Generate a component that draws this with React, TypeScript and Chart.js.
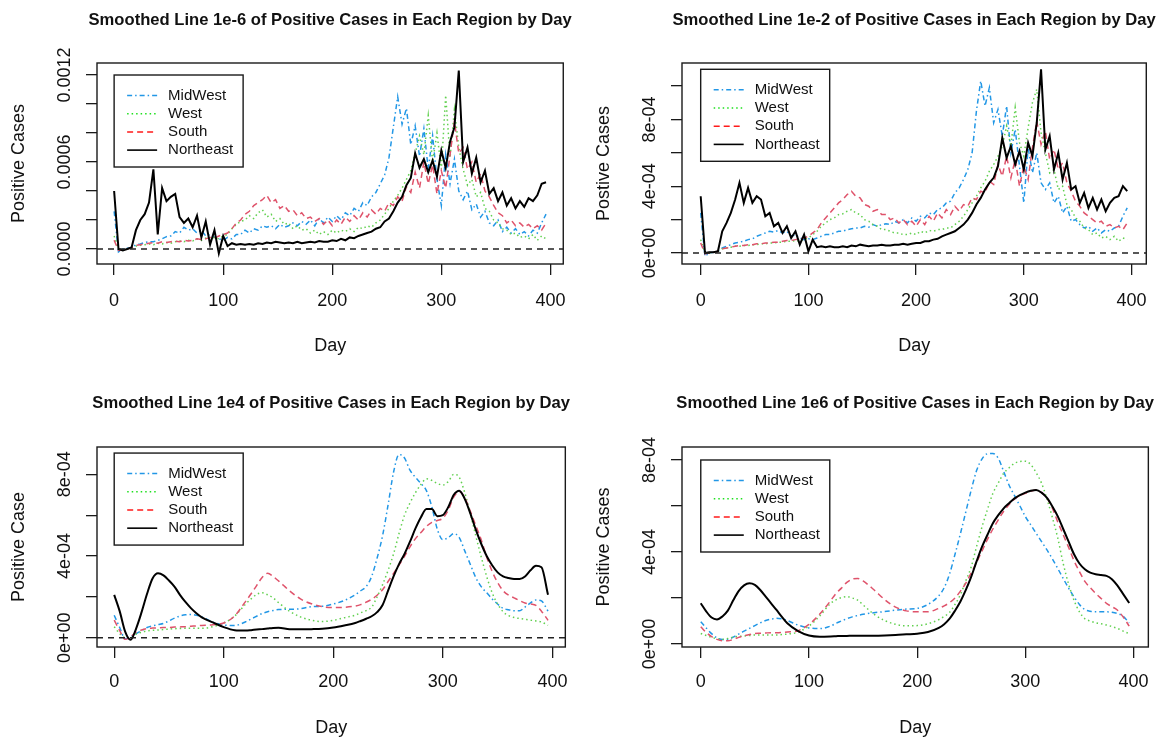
import React, { useEffect, useRef } from "react";
import { Chart, registerables } from "chart.js";

Chart.register(...registerables);

const FONT = "'Liberation Sans', Arial, Helvetica, sans-serif";
const UNIT = 1e-4; // all series values below are in units of 1e-4

const regions = ["MidWest", "West", "South", "Northeast"];
const lineColors = ["#2297E6", "#61D04F", "#DF536B", "#000000"];
const legendColors = ["#2297E6", "#1EE01E", "#FF1A1A", "#000000"];
const lineDashes = [[5, 3, 1.5, 3], [1.5, 3], [6, 4], []];
const lineWidths = [1.5, 1.5, 1.5, 2];
const drawOrder = [4, 3, 2, 1];

const xTickValues = [0, 100, 200, 300, 400];
const yTicksWide = [0, 0.0002, 0.0004, 0.0006, 0.0008, 0.001, 0.0012];
const yTicks10 = [0, 0.0002, 0.0004, 0.0006, 0.0008, 0.001];
const yTicks8 = [0, 0.0002, 0.0004, 0.0006, 0.0008];
const yLabelValsDecimal = [0, 0.0006, 0.0012];
const yLabelTextDecimal = ["0.0000", "0.0006", "0.0012"];
const yLabelValsSci = [0, 0.0004, 0.0008];
const yLabelTextSci = ["0e+00", "4e-04", "8e-04"];

// ---------- raw-ish daily series (sampled every 4 days) ----------
const noisyDays = [
  0, 4, 8, 12, 16, 20, 24, 28, 32, 36, 40, 44, 48, 52, 56, 60, 64, 68, 72, 76,
  80, 84, 88, 92, 96, 100, 104, 108, 112, 116, 120, 124, 128, 132, 136, 140, 144, 148, 152, 156,
  160, 164, 168, 172, 176, 180, 184, 188, 192, 196, 200, 204, 208, 212, 216, 220, 224, 228, 232, 236,
  240, 244, 248, 252, 256, 260, 264, 268, 272, 276, 280, 284, 288, 292, 296, 300, 304, 308, 312, 316,
  320, 324, 328, 332, 336, 340, 344, 348, 352, 356, 360, 364, 368, 372, 376, 380, 384, 388, 392, 396,
];

// Panel 1: smoothing 1e-6
const s6MidWest = [
  2.6, -0.2, 0.0, 0.05, 0.1, 0.3, 0.35, 0.45, 0.5, 0.5,
  0.6, 0.7, 0.85, 0.9, 1.2, 1.1, 1.5, 1.3, 1.4, 1.1,
  1.3, 0.9, 1.0, 0.8, 0.7, 0.6, 0.8, 0.7, 1.0, 1.0,
  1.3, 1.1, 1.4, 1.3, 1.6, 1.5, 1.6, 1.4, 1.7, 1.5,
  1.6, 1.8, 1.6, 1.9, 1.7, 2.0, 1.6, 2.1, 1.8, 2.2,
  1.9, 2.3, 2.0, 2.5, 2.3, 2.8, 2.6, 3.2, 3.0, 3.6,
  3.9, 4.5, 5.1, 6.3, 8.4, 10.5, 8.6, 9.7, 7.2, 8.5,
  6.4, 8.3, 5.5, 7.8, 4.8, 3.0, 6.5, 4.5, 6.2, 4.0,
  3.4, 4.0, 2.7, 3.1, 2.2, 2.6, 1.8, 1.6, 2.0, 1.2,
  1.5, 1.1, 1.4, 1.0, 1.2, 0.9, 1.3, 1.1, 1.8, 2.4,
];
const s6West = [
  0.9, 0.0, -0.05, 0.0, 0.05, 0.2, 0.25, 0.3, 0.35, 0.3,
  0.4, 0.35, 0.45, 0.4, 0.5, 0.55, 0.5, 0.6, 0.55, 0.7,
  0.6, 0.75, 0.65, 0.8, 0.7, 0.9, 1.0, 1.4, 1.7, 1.9,
  2.0, 2.3, 2.1, 2.5, 2.7, 2.2, 2.4, 1.9, 2.1, 1.7,
  1.8, 1.4, 1.6, 1.3, 1.4, 1.1, 1.3, 1.0, 1.2, 1.0,
  1.3, 1.1, 1.3, 1.2, 1.4, 1.2, 1.5, 1.4, 1.6, 1.5,
  1.8, 2.0, 2.4, 2.8, 3.3, 3.7, 4.2, 4.8, 5.4, 6.6,
  7.8, 6.5, 9.2, 6.0, 8.0, 5.5, 10.6, 6.3, 9.6, 7.0,
  5.5, 4.4, 4.8, 3.6, 3.9, 2.8, 2.6, 2.0, 1.8, 1.4,
  1.3, 1.0, 1.1, 0.8, 0.9, 0.7, 1.0, 0.6, 0.9, 0.7,
];
const s6South = [
  0.6, -0.1, -0.05, 0.0, 0.1, 0.25, 0.3, 0.35, 0.4, 0.45,
  0.4, 0.5, 0.45, 0.5, 0.55, 0.5, 0.6, 0.55, 0.6, 0.7,
  0.65, 0.7, 0.8, 0.75, 0.9, 1.0, 1.1, 1.4, 1.8, 2.0,
  2.4, 2.6, 3.0, 3.2, 3.4, 3.7, 3.2, 3.4, 2.8, 3.0,
  2.6, 2.7, 2.3, 2.5, 2.1, 2.2, 1.9, 2.1, 1.7, 2.0,
  1.6, 2.0, 1.7, 2.2, 1.9, 2.3, 2.0, 2.5, 2.2, 2.7,
  2.4, 2.8, 2.6, 3.2, 3.0, 3.6, 3.3, 4.3, 3.9, 5.3,
  4.2, 6.0, 4.5, 5.8, 3.8, 5.4, 4.2, 6.5, 8.8, 6.6,
  7.0, 5.5, 6.0, 4.6, 5.2, 4.0, 3.6, 3.0, 2.5, 2.3,
  1.8, 2.0, 1.6, 1.8, 1.5, 1.7, 1.4, 1.6, 1.3, 1.8,
];
const s6Northeast = [
  4.0, 0.0, -0.1, 0.0, 0.1, 1.3, 2.0, 2.4, 3.2, 5.5,
  1.0, 4.2, 3.3, 3.6, 3.8, 2.2, 1.8, 2.1, 1.5, 2.3,
  0.8, 1.9, 0.3, 1.3, -0.3, 0.9, 0.2, 0.4, 0.3, 0.35,
  0.3, 0.35, 0.3, 0.4, 0.35, 0.45, 0.4, 0.5, 0.45, 0.4,
  0.45, 0.4, 0.5, 0.4, 0.45, 0.5, 0.45, 0.55, 0.5, 0.5,
  0.6, 0.55, 0.7, 0.6, 0.8, 0.75, 0.9, 1.0, 1.1, 1.2,
  1.4, 1.5, 1.9, 2.1, 2.6, 3.2, 3.6, 4.4, 4.9, 6.6,
  5.6, 6.2, 5.3, 6.1, 5.0, 6.8, 5.6, 7.4, 8.4, 12.3,
  6.0, 7.0, 5.2, 6.3, 4.6, 5.4, 3.8, 4.2, 3.3, 3.9,
  3.0, 3.5, 2.8, 3.3, 2.9, 3.5, 3.3, 3.7, 4.5, 4.6,
];

// Panel 2: smoothing 1e-2
const s2MidWest = [
  2.4, -0.2, 0.0, 0.05, 0.1, 0.3, 0.4, 0.5, 0.6, 0.65,
  0.7, 0.8, 0.85, 1.0, 1.1, 1.2, 1.3, 1.25, 1.35, 1.2,
  1.3, 1.0, 1.1, 0.9, 0.8, 0.85, 0.8, 0.9, 1.0, 1.1,
  1.1, 1.2, 1.3, 1.3, 1.4, 1.45, 1.5, 1.5, 1.6, 1.55,
  1.7, 1.6, 1.7, 1.75, 1.7, 1.9, 1.8, 2.0, 1.8, 2.1,
  1.9, 2.2, 2.1, 2.4, 2.3, 2.6, 2.7, 3.0, 3.1, 3.6,
  3.9, 4.4, 5.0, 6.0, 8.5, 10.3, 8.8, 9.9, 7.8, 8.6,
  7.0, 8.8, 6.0, 7.4, 5.2, 3.0, 6.3, 4.8, 6.0, 4.2,
  3.8, 4.2, 3.0, 3.4, 2.4, 2.8, 1.9, 2.0, 1.7, 1.5,
  1.6, 1.3, 1.5, 1.2, 1.4, 1.3, 1.5, 1.6, 2.2, 2.7,
];
const s2West = [
  0.8, 0.0, 0.0, 0.05, 0.1, 0.25, 0.3, 0.35, 0.4, 0.4,
  0.45, 0.45, 0.5, 0.5, 0.55, 0.55, 0.6, 0.6, 0.65, 0.65,
  0.7, 0.7, 0.75, 0.7, 0.85, 0.9, 1.1, 1.3, 1.6, 1.8,
  2.0, 2.1, 2.3, 2.35, 2.5, 2.6, 2.4, 2.3, 2.0, 1.9,
  1.7, 1.6, 1.4, 1.4, 1.3, 1.2, 1.2, 1.1, 1.1, 1.2,
  1.1, 1.3, 1.2, 1.35, 1.3, 1.4, 1.4, 1.5, 1.5, 1.7,
  1.9, 2.2, 2.6, 3.0, 3.4, 3.9, 4.3, 4.9, 5.3, 5.8,
  6.4, 7.6, 6.4, 8.7, 6.6, 5.8, 7.5, 9.0, 9.8, 7.2,
  6.0, 4.8, 5.0, 3.8, 4.0, 2.9, 2.6, 2.1, 1.9, 1.5,
  1.4, 1.1, 1.2, 0.9, 1.0, 0.8, 1.0, 0.7, 0.9, 0.8,
];
const s2South = [
  0.6, -0.05, 0.0, 0.05, 0.1, 0.25, 0.3, 0.35, 0.4, 0.45,
  0.45, 0.5, 0.5, 0.55, 0.55, 0.6, 0.6, 0.65, 0.65, 0.7,
  0.75, 0.75, 0.8, 0.85, 0.9, 1.0, 1.2, 1.4, 1.8, 2.1,
  2.4, 2.7, 3.0, 3.2, 3.5, 3.7, 3.4, 3.3, 2.9, 2.8,
  2.5, 2.6, 2.3, 2.3, 2.0, 2.1, 1.8, 2.0, 1.7, 1.9,
  1.6, 2.0, 1.7, 2.2, 1.9, 2.4, 2.1, 2.6, 2.3, 2.8,
  2.5, 2.9, 2.8, 3.3, 3.2, 3.7, 3.6, 4.3, 4.1, 5.3,
  4.6, 5.8, 4.5, 5.6, 4.0, 5.2, 4.4, 6.3, 7.9, 6.5,
  7.3, 5.6, 6.2, 5.0, 5.4, 4.2, 3.7, 3.1, 2.8, 2.4,
  2.2, 2.0, 1.8, 1.9, 1.6, 1.7, 1.5, 1.6, 1.4, 1.8,
];
const s2Northeast = [
  3.4, 0.0, 0.05, 0.05, 0.1, 1.3, 1.8, 2.4, 3.2, 4.2,
  3.0, 3.9, 3.0, 3.4, 3.2, 2.2, 2.4, 1.6, 1.8, 1.2,
  1.6, 0.9, 1.3, 0.5, 1.1, 0.1, 0.8, 0.35, 0.4, 0.35,
  0.4, 0.35, 0.35, 0.4, 0.35, 0.45, 0.4, 0.5, 0.45, 0.4,
  0.45, 0.45, 0.5, 0.45, 0.45, 0.5, 0.5, 0.55, 0.5, 0.55,
  0.6, 0.6, 0.7, 0.7, 0.8, 0.85, 1.0, 1.1, 1.2, 1.3,
  1.5, 1.7, 2.0, 2.4, 2.9, 3.3, 3.8, 4.2, 4.5, 5.2,
  6.9, 5.7, 6.4, 5.3, 6.1, 5.0, 6.6, 5.8, 7.8, 11.0,
  6.2, 7.0, 5.0, 6.0, 4.4, 5.4, 3.8, 4.0, 3.0, 3.6,
  2.7, 3.3, 2.6, 3.2, 2.5, 3.0, 3.3, 3.4, 4.0, 3.7,
];

// ---------- smoothed curves ----------
const smoothDays = [
  0, 5, 10, 15, 20, 25, 30, 35, 40, 45, 50, 55, 60, 65, 70, 75, 80,
  90, 100, 110, 120, 125, 130, 135, 140, 145, 150,
  160, 170, 180, 190, 200, 210, 220,
  225, 230, 235, 240, 245, 250, 255, 260, 265, 270, 275, 280, 285, 290, 295, 300,
  305, 310, 315, 320, 325, 330, 335, 340, 345, 350, 355, 360, 365, 370, 375, 380, 385, 390,
  396,
];

// Panel 3: smoothing 1e4
const e4MidWest = [
  1.1, 0.5, -0.05, 0.05, 0.2, 0.35, 0.5, 0.58, 0.64, 0.7, 0.82, 0.96, 1.06, 1.12, 1.14, 1.1, 1.02,
  0.77, 0.62, 0.6, 0.78, 0.92, 1.05, 1.18, 1.27, 1.33, 1.38,
  1.39, 1.42, 1.52, 1.54, 1.65, 1.82, 2.1,
  2.3, 2.5, 3.0, 3.9, 5.0, 6.5, 8.1, 8.97, 8.8, 8.2, 7.85, 7.55, 7.2, 6.4, 5.3, 4.8,
  4.9, 5.1, 4.9, 4.25, 3.6, 2.95, 2.5, 2.2, 1.9, 1.65, 1.44, 1.37, 1.32, 1.32, 1.5, 1.7, 1.85, 1.8,
  1.3,
];
const e4West = [
  0.54, 0.2, 0.0, 0.0, 0.18, 0.27, 0.33, 0.36, 0.38, 0.4, 0.42, 0.44, 0.45, 0.46, 0.46, 0.46, 0.46,
  0.54, 0.72, 1.06, 1.65, 1.9, 2.12, 2.2, 2.1, 1.95, 1.72,
  1.3, 1.02, 0.86, 0.79, 0.85, 0.98, 1.1,
  1.22, 1.33, 1.5, 2.0, 2.6, 3.3, 4.1, 5.1, 6.0, 6.6, 7.1, 7.5, 7.78, 7.7, 7.55, 7.47,
  7.65, 8.0, 7.85, 7.1, 6.1, 5.0, 3.96, 3.0, 2.2, 1.65, 1.27, 1.08, 0.99, 0.94, 0.9, 0.86, 0.82, 0.77,
  0.6,
];
const e4South = [
  0.86, 0.35, -0.08, 0.05, 0.27, 0.38, 0.45, 0.47, 0.48, 0.5, 0.5, 0.52, 0.53, 0.54, 0.56, 0.58, 0.6,
  0.64, 0.72, 1.07, 1.78, 2.15, 2.55, 2.95, 3.15, 3.0, 2.78,
  2.3, 1.9, 1.66, 1.52, 1.48, 1.49, 1.55,
  1.62, 1.74, 1.88, 2.08, 2.35, 2.75, 3.15, 3.55, 3.98, 4.45, 4.85, 5.15, 5.45, 5.65, 5.74, 5.85,
  6.25, 6.9, 7.15, 6.85, 6.2, 5.5, 4.8, 3.95, 3.25, 2.7, 2.3, 2.08, 1.95, 1.82, 1.7, 1.65, 1.58, 1.3,
  0.85,
];
const e4Northeast = [
  2.1, 1.3, 0.3, -0.1, 0.45, 1.25, 2.15, 2.9, 3.15, 3.05, 2.8, 2.5, 2.1, 1.75, 1.45, 1.2, 1.0,
  0.75, 0.52, 0.37, 0.35, 0.37, 0.4, 0.42, 0.45, 0.48, 0.49,
  0.42, 0.41, 0.42, 0.44, 0.5, 0.6, 0.72,
  0.82, 0.93, 1.05, 1.25, 1.6, 2.3, 3.0, 3.6, 4.1, 4.7, 5.35, 5.9, 6.3, 6.3, 5.95, 6.0,
  6.4, 7.0, 7.2, 6.8, 6.1, 5.3, 4.6, 4.0, 3.55, 3.2, 3.0, 2.92, 2.87, 2.87, 3.0, 3.3, 3.52, 3.45,
  2.1,
];

// Panel 4: smoothing 1e6
const e6MidWest = [
  0.97, 0.7, 0.45, 0.27, 0.2, 0.2, 0.3, 0.43, 0.56, 0.68, 0.8, 0.92, 1.02, 1.08, 1.12, 1.09, 1.02,
  0.82, 0.7, 0.67, 0.78, 0.9, 1.0, 1.1, 1.18, 1.24, 1.29,
  1.36, 1.41, 1.47, 1.52, 1.55, 1.72, 2.1,
  2.45, 3.05, 3.9, 4.8, 5.75, 6.7, 7.55, 8.05, 8.27, 8.28, 8.07, 7.5, 6.9, 6.45, 6.0, 5.54,
  5.18, 4.81, 4.45, 4.09, 3.7, 3.28, 2.85, 2.43, 2.05, 1.72, 1.5, 1.42, 1.4, 1.4, 1.4, 1.38, 1.33, 1.22,
  0.92,
];
const e6West = [
  0.46, 0.37, 0.29, 0.23, 0.2, 0.24, 0.3, 0.33, 0.35, 0.37, 0.39, 0.39, 0.39, 0.39, 0.39, 0.41, 0.43,
  0.52, 0.78, 1.22, 1.77, 1.92, 2.02, 2.06, 2.0, 1.91, 1.7,
  1.3, 1.02, 0.86, 0.79, 0.8, 0.88, 1.06,
  1.2, 1.38, 1.72, 2.15, 2.75, 3.36, 4.25, 5.1, 5.85, 6.55, 7.0, 7.42, 7.66, 7.86, 7.93, 7.95,
  7.8, 7.45, 6.99, 6.3, 5.5, 4.6, 3.5, 2.6, 1.9, 1.4, 1.1, 1.0, 0.92, 0.88, 0.83, 0.76, 0.68, 0.57,
  0.45,
];
const e6South = [
  0.75, 0.5, 0.32, 0.2, 0.14, 0.14, 0.2, 0.29, 0.36, 0.41, 0.46, 0.47, 0.48, 0.49, 0.49, 0.5, 0.52,
  0.58, 0.85, 1.3, 1.88, 2.2, 2.43, 2.68, 2.82, 2.85, 2.74,
  2.36, 1.93, 1.6, 1.44, 1.4, 1.4, 1.55,
  1.66, 1.8, 2.0, 2.3, 2.65, 3.1, 3.55, 4.05, 4.55, 5.0, 5.4, 5.77, 6.06, 6.3, 6.45, 6.55,
  6.64, 6.7, 6.58, 6.35, 5.9, 5.3, 4.75, 4.2, 3.62, 3.15, 2.72, 2.45, 2.2, 1.98, 1.77, 1.62, 1.48, 1.2,
  0.78,
];
const e6Northeast = [
  1.77, 1.42, 1.15, 1.07, 1.2, 1.45, 1.9, 2.3, 2.55, 2.64, 2.57, 2.35, 2.06, 1.77, 1.48, 1.18, 0.9,
  0.56, 0.37, 0.32, 0.33, 0.34, 0.35, 0.35, 0.36, 0.36, 0.36,
  0.36, 0.37, 0.39, 0.42, 0.45, 0.52, 0.7,
  0.86, 1.1, 1.45, 1.85, 2.35, 2.93, 3.6, 4.23, 4.75, 5.25, 5.6, 5.9, 6.12, 6.33, 6.47, 6.58,
  6.66, 6.7, 6.58, 6.35, 5.98, 5.55, 5.0, 4.45, 3.9, 3.5, 3.25, 3.1, 3.03, 3.0, 2.96, 2.82, 2.55, 2.2,
  1.78,
];

type Panel = {
  key: string;
  pos: [number, number];
  title: string;
  yTitle: string;
  days: number[];
  series: number[][];
  smooth: boolean;
  area: { l: number; r: number; t: number; b: number };
  xRange: [number, number];
  yRange: [number, number];
  yTicks: number[];
  yLabelVals: number[];
  yLabelText: string[];
  zeroLine: boolean;
  legendAt: [number, number];
  titleY: number;
  xLabelY: number;
  xTitleY: number;
  yTitleX: number;
};

const W = 581;
const H = 370;

const panels: Panel[] = [
  {
    key: "p1", pos: [0, 0],
    title: "Smoothed Line 1e-6 of Positive Cases in Each Region by Day",
    yTitle: "Positive Cases",
    days: noisyDays, series: [s6MidWest, s6West, s6South, s6Northeast], smooth: false,
    area: { l: 97, r: 567, t: 63, b: 264 }, xRange: [-15.7, 411.8], yRange: [-0.0001034, 0.0012828],
    yTicks: yTicksWide, yLabelVals: yLabelValsDecimal, yLabelText: yLabelTextDecimal,
    zeroLine: true, legendAt: [0, 0.0012], titleY: 20, xLabelY: 301, xTitleY: 346, yTitleX: 19,
  },
  {
    key: "p2", pos: [581, 0],
    title: "Smoothed Line 1e-2 of Positive Cases in Each Region by Day",
    yTitle: "Postive Cases",
    days: noisyDays, series: [s2MidWest, s2West, s2South, s2Northeast], smooth: false,
    area: { l: 101, r: 573, t: 63, b: 264 }, xRange: [-17.35, 413.7], yRange: [-0.0000659, 0.0011377],
    yTicks: yTicks10, yLabelVals: yLabelValsSci, yLabelText: yLabelTextSci,
    zeroLine: true, legendAt: [0, 0.0011], titleY: 20, xLabelY: 301, xTitleY: 346, yTitleX: 23,
  },
  {
    key: "p3", pos: [0, 370],
    title: "Smoothed Line 1e4 of Positive Cases in Each Region by Day",
    yTitle: "Positive Case",
    days: smoothDays, series: [e4MidWest, e4West, e4South, e4Northeast], smooth: true,
    area: { l: 97, r: 567, t: 77, b: 277 }, xRange: [-15.7, 411.8], yRange: [-0.0000455, 0.0009337],
    yTicks: yTicks8, yLabelVals: yLabelValsSci, yLabelText: yLabelTextSci,
    zeroLine: true, legendAt: [0, 0.000904], titleY: 33, xLabelY: 312, xTitleY: 358, yTitleX: 19,
  },
  {
    key: "p4", pos: [581, 370],
    title: "Smoothed Line 1e6 of Positive Cases in Each Region by Day",
    yTitle: "Positive Cases",
    days: smoothDays, series: [e6MidWest, e6West, e6South, e6Northeast], smooth: true,
    area: { l: 101, r: 573, t: 77, b: 277 }, xRange: [-17.35, 413.7], yRange: [-0.000013, 0.0008565],
    yTicks: yTicks8, yLabelVals: yLabelValsSci, yLabelText: yLabelTextSci,
    zeroLine: false, legendAt: [0, 0.0008], titleY: 33, xLabelY: 312, xTitleY: 358, yTitleX: 23,
  },
];

function PanelChart({ panel }: { panel: Panel }) {
  const ref = useRef<HTMLCanvasElement | null>(null);

  useEffect(() => {
    const p = panel;
    const canvas = ref.current;
    if (!canvas) return;

    const datasets = p.series.map((vals, i) => ({
      label: regions[i],
      data: vals.map((v, j) => ({ x: p.days[j], y: v * UNIT })),
      borderColor: lineColors[i],
      backgroundColor: lineColors[i],
      borderWidth: lineWidths[i],
      borderDash: lineDashes[i],
      pointRadius: 0,
      fill: false,
      tension: 0,
      cubicInterpolationMode: p.smooth ? "monotone" : "default",
      order: drawOrder[i],
    }));

    const rStyle = {
      id: "rStyle" + p.key,
      afterDatasetsDraw(chart: any) {
        const { ctx, chartArea } = chart;
        const xs = chart.scales.x;
        const ys = chart.scales.y;
        ctx.save();
        if (p.zeroLine) {
          const y0 = ys.getPixelForValue(0);
          ctx.beginPath();
          ctx.setLineDash([6, 5]);
          ctx.strokeStyle = "#222";
          ctx.lineWidth = 1.4;
          ctx.moveTo(chartArea.left, y0);
          ctx.lineTo(chartArea.right, y0);
          ctx.stroke();
        }
        // plot box
        ctx.setLineDash([]);
        ctx.strokeStyle = "#1a1a1a";
        ctx.lineWidth = 1.4;
        ctx.strokeRect(chartArea.left, chartArea.top, chartArea.right - chartArea.left, chartArea.bottom - chartArea.top);

        // main title, centred over the plot region like R's title()
        ctx.fillStyle = "#111";
        ctx.font = `bold 16.6px ${FONT}`;
        ctx.textAlign = "center";
        ctx.textBaseline = "middle";
        ctx.fillText(p.title, (chartArea.left + chartArea.right) / 2, p.titleY);

        // y tick labels, rotated like R (las = 0)
        ctx.font = `18px ${FONT}`;
        p.yLabelVals.forEach((v, i) => {
          const py = ys.getPixelForValue(v);
          ctx.save();
          ctx.translate(chartArea.left - 32, py);
          ctx.rotate(-Math.PI / 2);
          ctx.fillText(p.yLabelText[i], 0, 0);
          ctx.restore();
        });

        // legend
        const lx = xs.getPixelForValue(p.legendAt[0]);
        const ly = ys.getPixelForValue(p.legendAt[1]);
        const bw = 129;
        const bh = 92;
        ctx.fillStyle = "#fff";
        ctx.fillRect(lx, ly, bw, bh);
        ctx.strokeStyle = "#1a1a1a";
        ctx.lineWidth = 1.4;
        ctx.strokeRect(lx, ly, bw, bh);
        ctx.font = `15px ${FONT}`;
        ctx.textAlign = "left";
        ctx.textBaseline = "middle";
        regions.forEach((name, i) => {
          const ry = ly + 20.5 + i * 18.2;
          ctx.beginPath();
          ctx.setLineDash(lineDashes[i]);
          ctx.strokeStyle = legendColors[i];
          ctx.lineWidth = i === 3 ? 1.6 : 1.5;
          ctx.moveTo(lx + 13, ry);
          ctx.lineTo(lx + 43, ry);
          ctx.stroke();
          ctx.setLineDash([]);
          ctx.fillStyle = "#111";
          ctx.fillText(name, lx + 54, ry);
        });
        ctx.restore();
      },
    };

    const chart = new Chart(canvas, {
      type: "line",
      data: { datasets: datasets as any },
      options: {
        animation: false,
        responsive: false,
        maintainAspectRatio: false,
        devicePixelRatio: 1,
        events: [],
        layout: { padding: { left: 0, right: W - p.area.r, top: p.area.t, bottom: 0 } },
        plugins: {
          legend: { display: false },
          tooltip: { enabled: false },
          title: { display: false },
        },
        scales: {
          x: {
            type: "linear",
            position: "bottom",
            bounds: "data",
            min: p.xRange[0],
            max: p.xRange[1],
            afterBuildTicks: (s: any) => {
              s.ticks = xTickValues.map((v) => ({ value: v }));
            },
            afterFit: (s: any) => {
              s.height = H - p.area.b;
            },
            grid: { drawOnChartArea: false, drawTicks: true, tickLength: 11, color: "#1a1a1a", lineWidth: 1.3 },
            border: { display: false },
            ticks: {
              color: "#111",
              font: { family: FONT, size: 18 },
              padding: p.xLabelY - p.area.b - 11 - 10.8,
              autoSkip: false,
              maxRotation: 0,
              minRotation: 0,
              callback: (v: any) => String(v),
            },
            title: {
              display: true,
              text: "Day",
              color: "#111",
              font: { family: FONT, size: 18 },
              padding: { top: 0, bottom: H - p.xTitleY - 10.8 },
            },
          },
          y: {
            type: "linear",
            position: "left",
            bounds: "data",
            min: p.yRange[0],
            max: p.yRange[1],
            afterBuildTicks: (s: any) => {
              s.ticks = p.yTicks.map((v) => ({ value: v }));
            },
            afterFit: (s: any) => {
              s.width = p.area.l;
            },
            grid: { drawOnChartArea: false, drawTicks: true, tickLength: 11, color: "#1a1a1a", lineWidth: 1.3 },
            border: { display: false },
            ticks: { display: false },
            title: {
              display: true,
              text: p.yTitle,
              color: "#111",
              font: { family: FONT, size: 18 },
              padding: { top: p.yTitleX - 10.8, bottom: 0 },
            },
          },
        },
      } as any,
      plugins: [rStyle],
    });

    return () => {
      chart.destroy();
    };
  }, [panel]);

  return (
    <div style={{ position: "absolute", left: panel.pos[0], top: panel.pos[1], width: W, height: H }}>
      <canvas ref={ref} width={W} height={H} style={{ width: W, height: H, display: "block" }} />
    </div>
  );
}

export default function App() {
  return (
    <div style={{ position: "absolute", left: 0, top: 0, width: 1162, height: 740, background: "#fff", overflow: "hidden" }}>
      {panels.map((p) => (
        <PanelChart key={p.key} panel={p} />
      ))}
    </div>
  );
}
